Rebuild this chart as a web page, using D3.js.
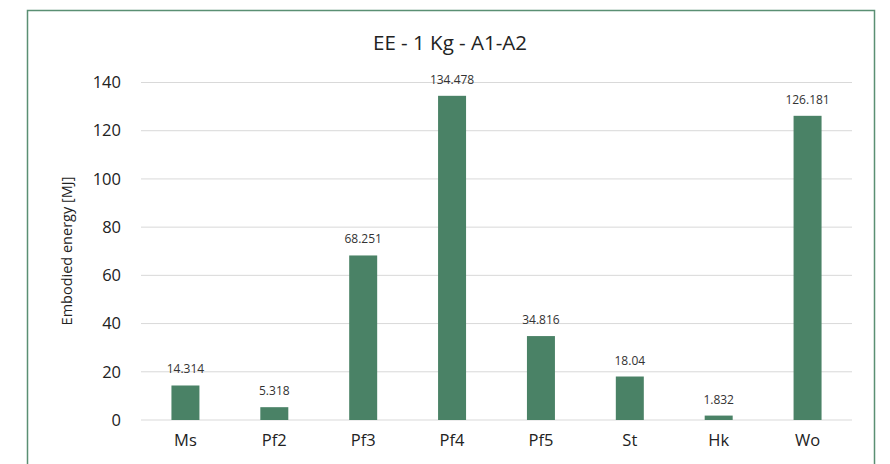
<!DOCTYPE html>
<html>
<head>
	<script src="https://cdn.jsdelivr.net/npm/d3@7"></script>
	<style>
		html, body { margin: 0; padding: 0; background: white; }
		svg { display: block; font-family: "Open Sans", sans-serif; }
	</style>
</head>
<body>
	<div id="chart"></div>
	<script>
		var categories = ["Ms", "Pf2", "Pf3", "Pf4", "Pf5", "St", "Hk", "Wo"];
		var values = [14.314, 5.318, 68.251, 134.478, 34.816, 18.04, 1.832, 126.181];
		var yTicks = [0, 20, 40, 60, 80, 100, 120, 140];

		var width = 890, height = 464;
		var svg = d3.select("#chart").append("svg")
			.attr("width", width)
			.attr("height", height);

		// frame
		svg.append("rect")
			.attr("x", 27.5).attr("y", 10.5)
			.attr("width", 847).attr("height", 470)
			.attr("fill", "white")
			.attr("stroke", "#5a8f73")
			.attr("stroke-width", 1.5);

		var x = d3.scaleBand().domain(categories).range([141, 852]).paddingInner(0.685).paddingOuter(0.3425);
		var y = d3.scaleLinear().domain([0, 140]).range([420, 82.5]);

		// gridlines
		svg.selectAll(".grid").data(yTicks).enter().append("line")
			.attr("x1", 141).attr("x2", 852)
			.attr("y1", function(d) { return y(d); })
			.attr("y2", function(d) { return y(d); })
			.attr("stroke", "#d9d9d9").attr("stroke-width", 1);

		var yAxis = svg.append("g")
			.attr("transform", "translate(141,0)")
			.call(d3.axisLeft(y).tickValues(yTicks).tickSize(0).tickPadding(20));
		yAxis.select(".domain").remove();
		yAxis.selectAll("text").attr("font-size", 16.5).attr("fill", "#222")
			.attr("font-family", "Open Sans, sans-serif");

		var xAxis = svg.append("g")
			.attr("transform", "translate(0,420)")
			.call(d3.axisBottom(x).tickSize(0).tickPadding(14));
		xAxis.select(".domain").remove();
		xAxis.selectAll("text").attr("font-size", 16.5).attr("fill", "#222")
			.attr("font-family", "Open Sans, sans-serif");

		// bars
		svg.selectAll(".bar").data(values).enter().append("rect")
			.attr("x", function(d, i) { return x(categories[i]); })
			.attr("width", x.bandwidth())
			.attr("y", function(d) { return y(d); })
			.attr("height", function(d) { return y(0) - y(d); })
			.attr("fill", "#4a8266");

		// value labels
		svg.selectAll(".lbl").data(values).enter().append("text")
			.attr("x", function(d, i) { return x(categories[i]) + x.bandwidth() / 2; })
			.attr("y", function(d) { return y(d) - 12; })
			.attr("text-anchor", "middle")
			.attr("font-size", 12)
			.attr("fill", "#333")
			.text(function(d) { return d; });

		svg.append("text")
			.attr("x", 450).attr("y", 50)
			.attr("text-anchor", "middle")
			.attr("font-size", 20.5)
			.attr("fill", "#222")
			.text("EE - 1 Kg - A1-A2");

		svg.append("text")
			.attr("transform", "translate(72,251) rotate(-90)")
			.attr("text-anchor", "middle")
			.attr("font-size", 14.5)
			.attr("fill", "#222")
			.text("Embodied energy [MJ]");
	</script>
</body>
</html>
